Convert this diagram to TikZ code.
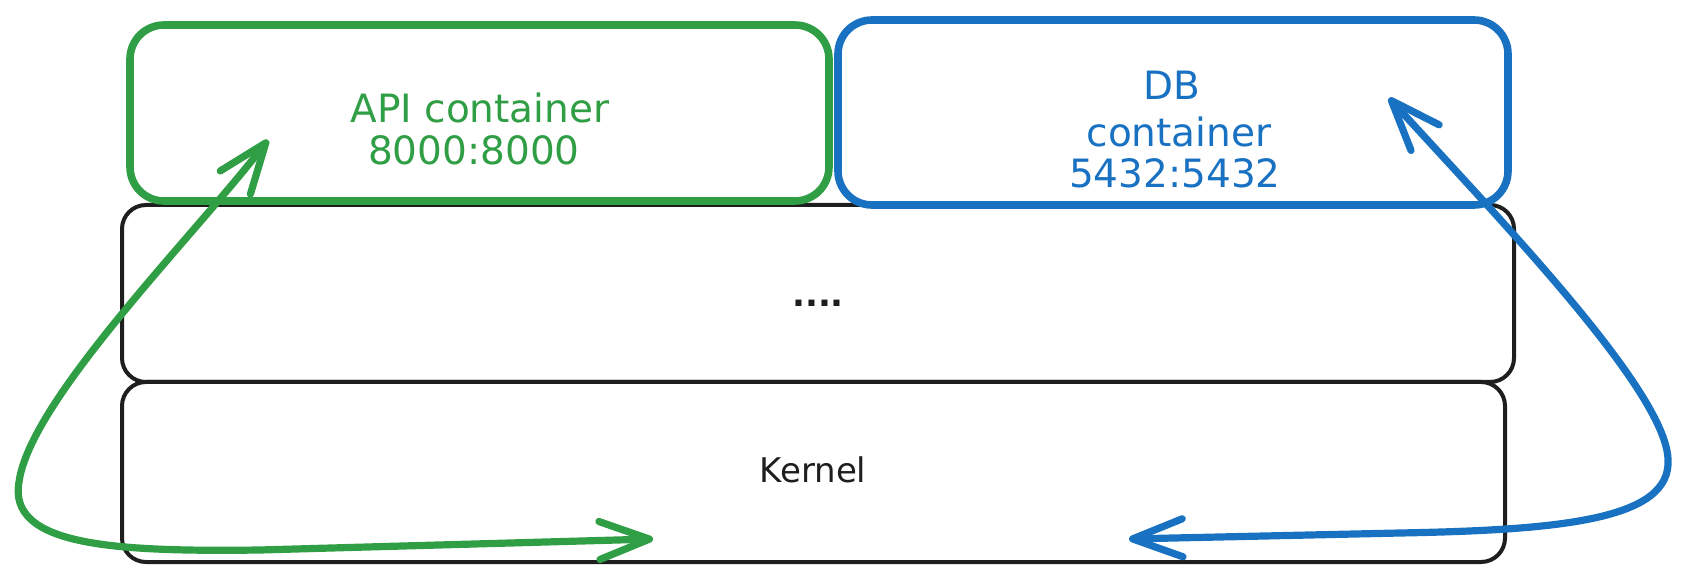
\documentclass[tikz,border=0pt]{standalone}
\usepackage{fontspec}
\setmainfont{DejaVu Sans}
\usetikzlibrary{arrows.meta}
\definecolor{xgreen}{HTML}{2F9E44}
\definecolor{xblue}{HTML}{1971C2}
\definecolor{xblack}{HTML}{1E1E1E}
\begin{document}
\begin{tikzpicture}[x=0.5pt,y=-0.5pt,
  box/.style={draw, line width=3.8pt, rounded corners=17pt, inner sep=0pt, outer sep=0pt},
  layer/.style={draw=xblack, line width=2pt, rounded corners=12pt, inner sep=0pt, outer sep=0pt},
  lbl/.style={anchor=base, inner sep=0pt, font=\fontsize{19.5}{22}\selectfont},
  klbl/.style={anchor=base, inner sep=0pt, text=xblack, font=\fontsize{17}{20}\selectfont},
  conn/.style={line width=3.6pt, line cap=round, line join=round,
    arrows={Straight Barb[length=25pt,width=19pt,round]-Straight Barb[length=25pt,width=19pt,round]}}]
\useasboundingbox (0,0) rectangle (1686,582);
% layers
\node[layer, minimum width=696pt, minimum height=88.5pt] (mid) at (818,293.5) {};
\node[layer, minimum width=691.5pt, minimum height=90pt] (kern) at (813.5,472) {};
% containers
\node[box, draw=xgreen, minimum width=349.5pt, minimum height=88pt] (api) at (479.5,113) {};
\node[box, draw=xblue, minimum width=335pt, minimum height=92.5pt] (db) at (1173,112.5) {};
% labels
\node[lbl, text=xgreen] (apit1) at (480,123) {API container};
\node[lbl, text=xgreen] (apit2) at (474,165) {8000:8000};
\node[lbl, text=xblue] (dbt1) at (1172,100) {DB};
\node[lbl, text=xblue] (dbt2) at (1179,147) {container};
\node[lbl, text=xblue] (dbt3) at (1175,188) {5432:5432};
\node[klbl, font=\bfseries\fontsize{17}{20}\selectfont] (midt) at (818,307) {....};
\node[klbl] (kernt) at (813,482) {Kernel};
% connector end points
\coordinate (ga1) at (268,140);
\coordinate (ga2) at (653,539);
\coordinate (ba1) at (1389,98);
\coordinate (ba2) at (1129,539);
% connectors
\draw[conn, xgreen] (ga1) .. controls (195,235) and (30,400) .. (19,482)
  .. controls (8,545) and (110,552) .. (260,550) -- (ga2);
\draw[conn, xblue] (ba1) .. controls (1500,220) and (1665,390) .. (1668,459)
  .. controls (1672,520) and (1560,530) .. (1400,533) -- (ba2);
\end{tikzpicture}
\end{document}
